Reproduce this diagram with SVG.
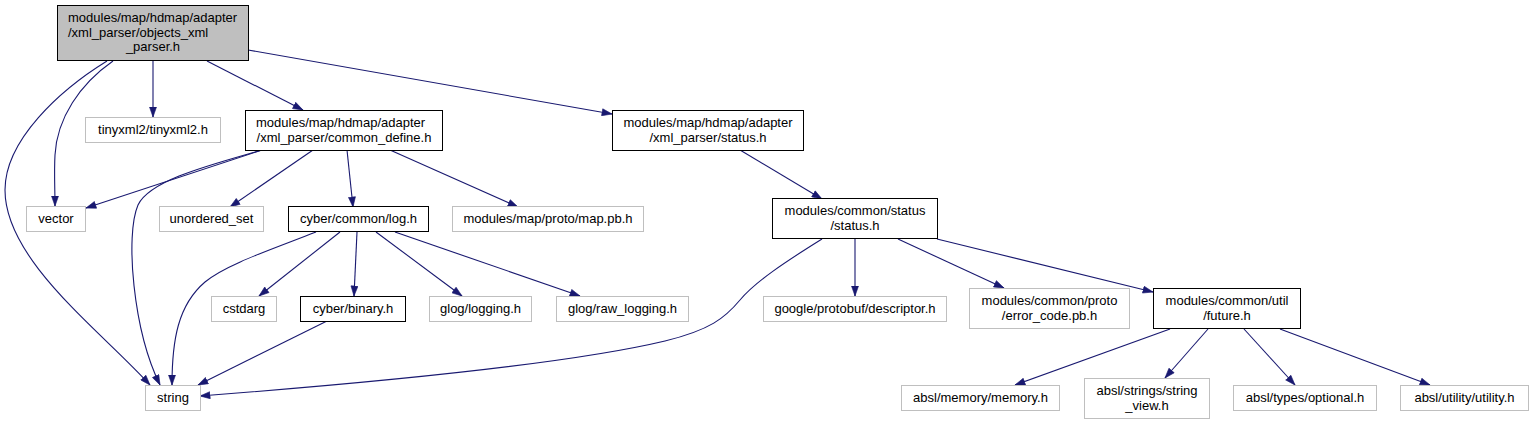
<svg xmlns="http://www.w3.org/2000/svg" width="1532" height="424" viewBox="0 0 1532 424">
<style>
.n rect{fill:#ffffff;stroke:#bfbfbf;stroke-width:1}
.n.d rect{stroke:#000000}
.n.root rect{fill:#bfbfbf;stroke:#000000}
text{font-family:"Liberation Sans",Arial,Helvetica,sans-serif;font-size:13px;fill:#000000}
.c{text-anchor:middle}
.s{text-anchor:start}
#edges path{fill:none;stroke:#191970;stroke-width:1.1;marker-end:url(#arr)}
</style>
<defs>
<marker id="arr" markerUnits="userSpaceOnUse" markerWidth="11" markerHeight="8" viewBox="0 0 11 8" refX="10.5" refY="4" orient="auto">
<path d="M0.5,0.5 L10.5,4 L0.5,7.5 z" fill="#191970" stroke="#191970" stroke-width="0.6"/>
</marker>
</defs>
<rect width="1532" height="424" fill="#ffffff"/>
<g id="edges">
<path d="M107,61 C 60,90 5,140 5,190 C 5,260 100,330 150,385"/>
<path d="M113,61 C 80,84 57,118 55,155 C 54,172 55,190 55,206"/>
<path d="M153,61 L153,117"/>
<path d="M207,61 L303,110"/>
<path d="M248,50 L612,114"/>
<path d="M262,150 L86,208"/>
<path d="M262,150 C 210,165 150,180 138,205 C 125,235 133,330 160,385"/>
<path d="M313,150 L230,207"/>
<path d="M347,150 L353,207"/>
<path d="M390,150 L518,207"/>
<path d="M740,150 L822,199"/>
<path d="M316,232 C 270,250 225,265 205,282 C 178,305 172,340 172,385"/>
<path d="M340,232 L259,296"/>
<path d="M357,232 L354,296"/>
<path d="M376,232 L462,296"/>
<path d="M395,232 L580,296"/>
<path d="M327,321 L198,385"/>
<path d="M822,239 C 785,262 755,282 740,300 C 725,318 710,330 665,341 C 560,366 330,386 200,396"/>
<path d="M855,239 L855,296"/>
<path d="M898,239 L1004,288"/>
<path d="M937,239 L1153,292"/>
<path d="M1170,329 L1015,385"/>
<path d="M1208,329 L1165,378"/>
<path d="M1244,329 L1295,385"/>
<path d="M1280,329 L1430,385"/>
</g>
<g id="node-root" class="n root">
<rect x="57.5" y="5.5" width="191" height="55"/>
<text class="s" x="68" y="22">modules/map/hdmap/adapter</text>
<text class="s" x="68" y="36.5">/xml_parser/objects_xml</text>
<text class="c" x="153" y="51">_parser.h</text>
</g>
<g id="node-tinyxml2" class="n">
<rect x="85.5" y="117.5" width="135" height="25"/>
<text class="c" x="153" y="134">tinyxml2/tinyxml2.h</text>
</g>
<g id="node-common-define" class="n d">
<rect x="245.5" y="110.5" width="197" height="40"/>
<text class="s" x="256" y="127">modules/map/hdmap/adapter</text>
<text class="c" x="344" y="141.5">/xml_parser/common_define.h</text>
</g>
<g id="node-xml-status" class="n d">
<rect x="612.5" y="110.5" width="191" height="40"/>
<text class="c" x="708" y="127">modules/map/hdmap/adapter</text>
<text class="c" x="708" y="141.5">/xml_parser/status.h</text>
</g>
<g id="node-vector" class="n">
<rect x="26.5" y="206.5" width="59" height="25"/>
<text class="c" x="56" y="223">vector</text>
</g>
<g id="node-unordered-set" class="n">
<rect x="159.5" y="206.5" width="104" height="25"/>
<text class="c" x="211.5" y="223">unordered_set</text>
</g>
<g id="node-log" class="n d">
<rect x="288.5" y="206.5" width="140" height="25"/>
<text class="c" x="358.5" y="223">cyber/common/log.h</text>
</g>
<g id="node-map-pb" class="n">
<rect x="452.5" y="206.5" width="191" height="25"/>
<text class="c" x="548" y="223">modules/map/proto/map.pb.h</text>
</g>
<g id="node-common-status" class="n d">
<rect x="772.5" y="198.5" width="165" height="40"/>
<text class="c" x="855" y="215">modules/common/status</text>
<text class="c" x="855" y="229.5">/status.h</text>
</g>
<g id="node-cstdarg" class="n">
<rect x="211.5" y="296.5" width="65" height="25"/>
<text class="c" x="244" y="313">cstdarg</text>
</g>
<g id="node-binary" class="n d">
<rect x="300.5" y="296.5" width="105" height="25"/>
<text class="c" x="353" y="313">cyber/binary.h</text>
</g>
<g id="node-logging" class="n">
<rect x="429.5" y="296.5" width="102" height="25"/>
<text class="c" x="480.5" y="313">glog/logging.h</text>
</g>
<g id="node-raw-logging" class="n">
<rect x="556.5" y="296.5" width="132" height="25"/>
<text class="c" x="622.5" y="313">glog/raw_logging.h</text>
</g>
<g id="node-descriptor" class="n">
<rect x="763.5" y="296.5" width="183" height="25"/>
<text class="c" x="855" y="313">google/protobuf/descriptor.h</text>
</g>
<g id="node-error-code" class="n">
<rect x="969.5" y="288.5" width="160" height="40"/>
<text class="c" x="1049.5" y="305">modules/common/proto</text>
<text class="c" x="1049.5" y="319.5">/error_code.pb.h</text>
</g>
<g id="node-future" class="n d">
<rect x="1153.5" y="288.5" width="147" height="40"/>
<text class="c" x="1227" y="305">modules/common/util</text>
<text class="c" x="1227" y="319.5">/future.h</text>
</g>
<g id="node-string" class="n">
<rect x="145.5" y="385.5" width="55" height="25"/>
<text class="c" x="173" y="402">string</text>
</g>
<g id="node-memory" class="n">
<rect x="901.5" y="385.5" width="158" height="25"/>
<text class="c" x="980.5" y="402">absl/memory/memory.h</text>
</g>
<g id="node-string-view" class="n">
<rect x="1084.5" y="378.5" width="125" height="40"/>
<text class="c" x="1147" y="395">absl/strings/string</text>
<text class="c" x="1147" y="409.5">_view.h</text>
</g>
<g id="node-optional" class="n">
<rect x="1233.5" y="385.5" width="143" height="25"/>
<text class="c" x="1305" y="402">absl/types/optional.h</text>
</g>
<g id="node-utility" class="n">
<rect x="1400.5" y="385.5" width="128" height="25"/>
<text class="c" x="1464.5" y="402">absl/utility/utility.h</text>
</g>
</svg>
